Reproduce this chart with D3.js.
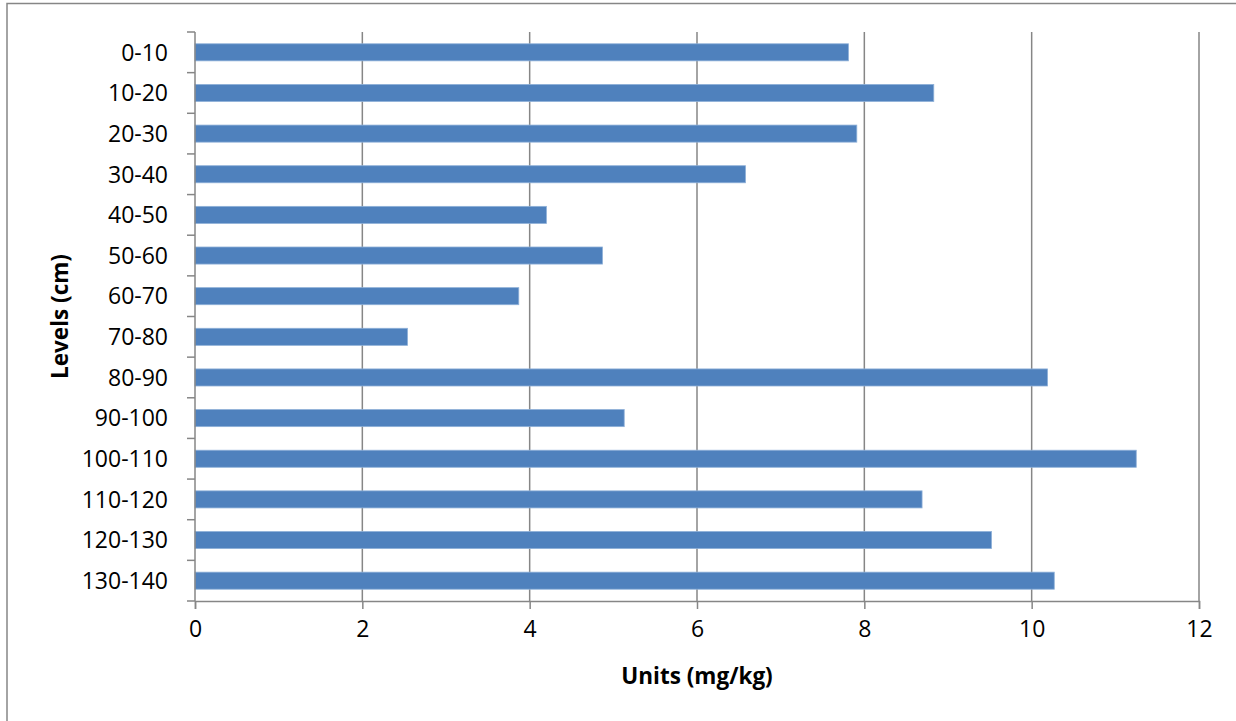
<!DOCTYPE html>
<html>
<head>
<meta charset="utf-8">
<script src="https://cdn.jsdelivr.net/npm/d3@7"></script>
<style>
  html, body { margin: 0; padding: 0; background: #fff; }
  svg { display: block; }
  text { font-family: "Open Sans", sans-serif; fill: #000; }
</style>
</head>
<body>
<svg id="chart" width="1236" height="721"></svg>
<script>
const categories = ["0-10","10-20","20-30","30-40","40-50","50-60","60-70","70-80","80-90","90-100","100-110","110-120","120-130","130-140"];
const values = [7.81, 8.83, 7.91, 6.58, 4.20, 4.87, 3.87, 2.54, 10.19, 5.13, 11.25, 8.69, 9.52, 10.27];
const xTicks = [0, 2, 4, 6, 8, 10, 12];
const xTitle = "Units (mg/kg)";
const yTitle = "Levels (cm)";

(function () {
const svg = d3.select("#chart");
const pL = 195, pR = 1199, pT = 32, pB = 601;

svg.append("rect")
  .attr("x", 7).attr("y", 3.5)
  .attr("width", 1300).attr("height", 800)
  .attr("fill", "#fff").attr("stroke", "#868686").attr("stroke-width", 1.5);

const x = d3.scaleLinear().domain([0, 12]).range([pL, pR]);
const y = d3.scaleBand().domain(categories).range([pT, pB])
  .paddingInner(0.58).paddingOuter(0.29);

svg.append("g").selectAll("line")
  .data(xTicks.filter(d => d > 0))
  .join("line")
  .attr("x1", d => x(d)).attr("x2", d => x(d))
  .attr("y1", pT).attr("y2", pB)
  .attr("stroke", "#868686").attr("stroke-width", 1.5);

svg.append("g").selectAll("rect")
  .data(categories)
  .join("rect")
  .attr("x", x(0))
  .attr("y", d => y(d))
  .attr("width", (d, i) => x(values[i]) - x(0))
  .attr("height", y.bandwidth())
  .attr("fill", "#4F81BD")
  .attr("stroke", "#8eb0d8").attr("stroke-width", 0.8);

const xAxis = svg.append("g")
  .attr("transform", `translate(0,${pB})`)
  .call(d3.axisBottom(x).tickValues(xTicks).tickSize(8).tickPadding(12).tickFormat(d3.format("d")));
xAxis.select(".domain").attr("stroke", "#868686").attr("stroke-width", 1.5);
xAxis.selectAll(".tick line").attr("stroke", "#868686").attr("stroke-width", 1.5);
xAxis.selectAll(".tick text").style("font-size", "23px").style("font-family", "Open Sans").attr("fill", "#000");

const yAxisG = svg.append("g");
yAxisG.append("line")
  .attr("x1", pL).attr("x2", pL).attr("y1", pT).attr("y2", pB)
  .attr("stroke", "#868686").attr("stroke-width", 1.5);
const boundaries = d3.range(categories.length + 1).map(i => pT + i * (pB - pT) / categories.length);
yAxisG.selectAll("line.tk")
  .data(boundaries)
  .join("line").attr("class", "tk")
  .attr("x1", pL - 8).attr("x2", pL)
  .attr("y1", d => d).attr("y2", d => d)
  .attr("stroke", "#868686").attr("stroke-width", 1.5);
yAxisG.selectAll("text")
  .data(categories)
  .join("text")
  .attr("x", 168)
  .attr("y", d => y(d) + y.bandwidth() / 2)
  .attr("dy", "0.36em")
  .attr("text-anchor", "end")
  .style("font-size", "23px")
  .text(d => d);

svg.append("text")
  .attr("x", (pL + pR) / 2).attr("y", 684)
  .attr("text-anchor", "middle")
  .style("font-size", "22.5px").style("font-weight", "bold")
  .text(xTitle);

svg.append("text")
  .attr("transform", `translate(68,${(pT + pB) / 2}) rotate(-90)`)
  .attr("text-anchor", "middle")
  .style("font-size", "22.5px").style("font-weight", "bold")
  .text(yTitle);
})();
</script>
</body>
</html>
